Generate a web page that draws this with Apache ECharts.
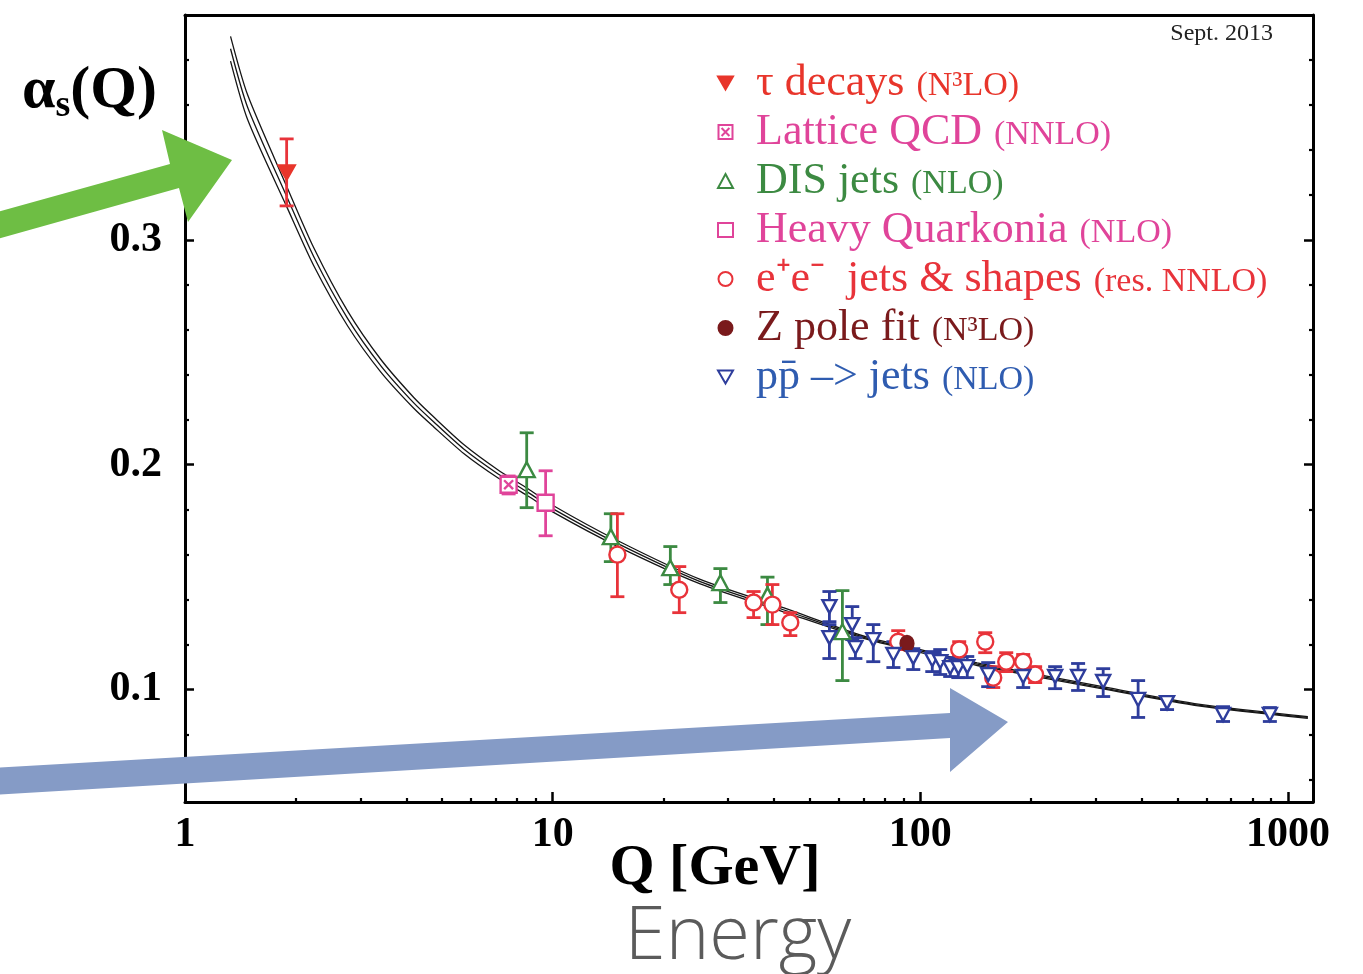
<!DOCTYPE html>
<html>
<head>
<meta charset="utf-8">
<title>alpha_s(Q)</title>
<script src="https://cdn.jsdelivr.net/npm/echarts@6/dist/echarts.min.js"></script>
<style>
  html, body { margin: 0; padding: 0; background: #fff; }
  #chart { width: 1363px; height: 974px; }
</style>
</head>
<body>
<div id="chart"></div>
<script>
// running coupling band
const curveQ   = [1.33, 1.48, 1.9, 2.24, 2.77, 3.41, 4.19, 4.75, 5.73, 7.09, 8.55, 10, 15, 25.2, 42.4, 71.8, 108.5, 142.8, 308, 577, 1133];
const curveMid = [0.385, 0.359, 0.3185, 0.2925, 0.265, 0.244, 0.2275, 0.219, 0.207, 0.196, 0.1878, 0.1805, 0.165, 0.148, 0.1355, 0.1228, 0.1158, 0.1113, 0.101, 0.093, 0.0876];
const curveUp  = [0.3905, 0.3645, 0.323, 0.2965, 0.2683, 0.2468, 0.2299, 0.2212, 0.209, 0.1978, 0.1894, 0.182, 0.1663, 0.149, 0.1364, 0.1233, 0.1164, 0.1119, 0.1015, 0.0934, 0.088];
const curveLow = [0.3795, 0.3535, 0.314, 0.2885, 0.2617, 0.2412, 0.2251, 0.2168, 0.205, 0.1942, 0.1862, 0.179, 0.1637, 0.147, 0.1346, 0.1223, 0.1152, 0.1107, 0.1005, 0.0926, 0.0872];

// tau decays
const tauQ = [1.89];
const tauAlpha = [0.330];
const tauLow = [0.3151];
const tauHigh = [0.3449];

// lattice QCD
const latQ = [7.59];
const latAlpha = [0.1911];
const latLow = [0.187];
const latHigh = [0.195];

// DIS jets
const disQ = [8.5, 14.4, 20.9, 28.6, 38.4, 61.4];
const disAlpha = [0.1978, 0.168, 0.1542, 0.1476, 0.142, 0.1258];
const disLow = [0.1809, 0.1569, 0.1467, 0.1387, 0.1289, 0.104];
const disHigh = [0.2142, 0.1782, 0.1636, 0.1538, 0.150, 0.144];

// heavy quarkonia
const hqQ = [9.57];
const hqAlpha = [0.1831];
const hqLow = [0.1684];
const hqHigh = [0.1973];

// e+e- jets & shapes
const eeQ = [15.0, 22.1, 35.2, 39.6, 44.3, 87.1, 127.6, 150.2, 157.9, 171.3, 190.5, 205.3];
const eeAlpha = [0.160, 0.1444, 0.1387, 0.1378, 0.1298, 0.1213, 0.1178, 0.1213, 0.1053, 0.1124, 0.1124, 0.1067];
const eeLow = [0.1413, 0.1342, 0.132, 0.1289, 0.124, 0.1178, 0.1147, 0.1164, 0.1009, 0.108, 0.1084, 0.1031];
const eeHigh = [0.1782, 0.1547, 0.1436, 0.1467, 0.1342, 0.1262, 0.1213, 0.1253, 0.1102, 0.1164, 0.1156, 0.1102];

// Z pole fit
const zQ = [92];
const zAlpha = [0.1205];

// pp(bar) -> jets
const ppQ = [56.6, 56.6, 65.3, 66.6, 74.5, 84.5, 95.7, 107.8, 113.3, 120.6, 126.9, 134.2, 153, 190.5, 232.7, 268.7, 314.4, 391.3, 469, 666, 893];
const ppAlpha = [0.1369, 0.1231, 0.1289, 0.1187, 0.1222, 0.1156, 0.1142, 0.1133, 0.1124, 0.1098, 0.1098, 0.1102, 0.1067, 0.1058, 0.1058, 0.1058, 0.1036, 0.0956, 0.0942, 0.0889, 0.0889];
const ppLow = [0.1302, 0.1138, 0.1222, 0.1138, 0.1124, 0.1098, 0.1089, 0.108, 0.1067, 0.1058, 0.1053, 0.1053, 0.1013, 0.1009, 0.1004, 0.0996, 0.0969, 0.0876, 0.0911, 0.0858, 0.0858];
const ppHigh = [0.1436, 0.1289, 0.1369, 0.1231, 0.1289, 0.1213, 0.1182, 0.1169, 0.1178, 0.1142, 0.1133, 0.1147, 0.112, 0.1111, 0.1102, 0.1116, 0.1093, 0.104, 0.0969, 0.0924, 0.092];

// axis ticks
const xMajor = [1, 10, 100, 1000];
const xMinor = [2, 3, 4, 5, 6, 7, 8, 9, 20, 30, 40, 50, 60, 70, 80, 90, 200, 300, 400, 500, 600, 700, 800, 900];
const yMajor = [0.1, 0.2, 0.3];
const yMinor = [0.06, 0.08, 0.12, 0.14, 0.16, 0.18, 0.22, 0.24, 0.26, 0.28, 0.32, 0.34, 0.36, 0.38];

const RED = '#e8333a';
const PINK = '#e0449a';
const GREEN = '#3c8a42';
const BLUE = '#2e3d9c';
const ZRED = '#7a1a1c';
const SERIF = '"Liberation Serif", "Times New Roman", serif';

const DOWN_TRI = 'path://M0,0L12,0L6,10.4Z';
const BOX_X = 'path://M0,0L10,0L10,10L0,10Z M2.2,2.2L7.8,7.8 M7.8,2.2L2.2,7.8';

const pts = (q, a) => q.map((v, i) => [v, a[i]]);
const bars = (q, lo, hi) => q.map((v, i) => [v, lo[i], hi[i]]);

function errorBar(color) {
  return function (params, api) {
    const x = api.value(0);
    const lo = api.coord([x, api.value(1)]);
    const hi = api.coord([x, api.value(2)]);
    const w = 7;
    const style = { stroke: color, lineWidth: 2.8 };
    return {
      type: 'group',
      children: [
        { type: 'line', shape: { x1: hi[0], y1: hi[1], x2: lo[0], y2: lo[1] }, style },
        { type: 'line', shape: { x1: hi[0] - w, y1: hi[1], x2: hi[0] + w, y2: hi[1] }, style },
        { type: 'line', shape: { x1: lo[0] - w, y1: lo[1], x2: lo[0] + w, y2: lo[1] }, style }
      ]
    };
  };
}

function errSeries(name, data, color) {
  return {
    name: name, type: 'custom', data: data, renderItem: errorBar(color),
    encode: { x: 0, y: [1, 2] }, z: 3, silent: true
  };
}

function markSeries(name, data, symbol, size, fill, stroke) {
  return {
    name: name, type: 'scatter', data: data, symbol: symbol, symbolSize: size,
    itemStyle: { color: fill, borderColor: stroke, borderWidth: 2.4, opacity: 1 },
    z: 4, silent: true
  };
}

function bandLine(data) {
  return {
    type: 'line', data: data, showSymbol: false, smooth: 0.25,
    lineStyle: { color: '#161616', width: 1.3 }, z: 2, silent: true
  };
}

const names = {
  tau: 'τ decays',
  lat: 'Lattice QCD',
  dis: 'DIS jets',
  hq: 'Heavy Quarkonia',
  ee: 'e⁺e⁻  jets & shapes',
  z: 'Z pole fit',
  pp: 'pp̄ –> jets'
};
const orders = {
  'τ decays': '(N³LO)',
  'Lattice QCD': '(NNLO)',
  'DIS jets': '(NLO)',
  'Heavy Quarkonia': '(NLO)',
  'e⁺e⁻  jets & shapes': '(res. NNLO)',
  'Z pole fit': '(N³LO)',
  'pp̄ –> jets': '(NLO)'
};
const legendColors = ['#e8352b', PINK, GREEN, PINK, RED, ZRED, '#2f5cb0'];

const baseX = { type: 'log', logBase: 10, min: 1, max: 1170, splitLine: { show: false } };
const baseY = { type: 'value', min: 0.05, max: 0.4, splitLine: { show: false } };
const axisBlack = { lineStyle: { color: '#000', width: 3 } };

const chart = echarts.init(document.getElementById('chart'));
chart.setOption({
  animation: false,
  backgroundColor: '#fff',
  grid: { left: 185, right: 50, top: 15, bottom: 172 },
  xAxis: [
    Object.assign({}, baseX, {
      position: 'bottom',
      axisLine: axisBlack,
      axisTick: { inside: true, length: 10, customValues: xMajor, lineStyle: { color: '#000', width: 2.5 } },
      axisLabel: {
        customValues: xMajor, margin: 12, color: '#000',
        fontFamily: SERIF, fontWeight: 'bold', fontSize: 42,
        formatter: v => String(Math.round(v))
      },
      name: 'Q [GeV]', nameLocation: 'middle', nameGap: 38, nameMoveOverlap: false,
      nameTextStyle: { fontFamily: SERIF, fontWeight: 'bold', fontSize: 58, color: '#000', padding: [0, 68, 0, 0] }
    }),
    Object.assign({}, baseX, {
      position: 'bottom',
      axisLine: { show: false },
      axisTick: { inside: true, length: 4, customValues: xMinor, lineStyle: { color: '#000', width: 2.2 } },
      axisLabel: { show: false }
    }),
    Object.assign({}, baseX, {
      position: 'top',
      axisLine: axisBlack,
      axisTick: { show: false },
      axisLabel: { show: false }
    })
  ],
  yAxis: [
    Object.assign({}, baseY, {
      position: 'left',
      axisLine: axisBlack,
      axisTick: { inside: true, length: 9, customValues: yMajor, lineStyle: { color: '#000', width: 2.5 } },
      axisLabel: {
        customValues: yMajor, margin: 23, color: '#000',
        fontFamily: SERIF, fontWeight: 'bold', fontSize: 42,
        formatter: v => v.toFixed(1)
      }
    }),
    Object.assign({}, baseY, {
      position: 'left',
      axisLine: { show: false },
      axisTick: { inside: true, length: 4, customValues: yMinor, lineStyle: { color: '#000', width: 2.2 } },
      axisLabel: { show: false }
    }),
    Object.assign({}, baseY, {
      position: 'right',
      axisLine: axisBlack,
      axisTick: { inside: true, length: 9, customValues: yMajor, lineStyle: { color: '#000', width: 2.5 } },
      axisLabel: { show: false }
    }),
    Object.assign({}, baseY, {
      position: 'right',
      axisLine: { show: false },
      axisTick: { inside: true, length: 4, customValues: yMinor, lineStyle: { color: '#000', width: 2.2 } },
      axisLabel: { show: false }
    })
  ],
  legend: {
    orient: 'vertical', left: 712, top: 56,
    itemWidth: 15, itemHeight: 14, itemGap: 5,
    selectedMode: false,
    data: Object.values(names).map((n, i) => ({ name: n, textStyle: { color: legendColors[i] } })),
    formatter: n => '{a|' + n + '}{b|' + orders[n] + '}',
    textStyle: {
      fontFamily: SERIF,
      rich: {
        a: { fontFamily: SERIF, fontSize: 44, lineHeight: 44, padding: [0, 0, 0, 18] },
        b: { fontFamily: SERIF, fontSize: 34, lineHeight: 37, padding: [7, 0, 0, 12] }
      }
    }
  },
  series: [
    bandLine(pts(curveQ, curveUp)),
    bandLine(pts(curveQ, curveMid)),
    bandLine(pts(curveQ, curveLow)),
    errSeries('tau-err', bars(tauQ, tauLow, tauHigh), RED),
    errSeries('lat-err', bars(latQ, latLow, latHigh), PINK),
    errSeries('dis-err', bars(disQ, disLow, disHigh), GREEN),
    errSeries('hq-err', bars(hqQ, hqLow, hqHigh), PINK),
    errSeries('ee-err', bars(eeQ, eeLow, eeHigh), RED),
    errSeries('pp-err', bars(ppQ, ppLow, ppHigh), BLUE),
    markSeries(names.tau, pts(tauQ, tauAlpha), DOWN_TRI, [16, 14], '#e8352b', '#e8352b'),
    markSeries(names.lat, pts(latQ, latAlpha), BOX_X, 16, '#fff', PINK),
    markSeries(names.dis, pts(disQ, disAlpha), 'triangle', [16, 15], '#fff', GREEN),
    markSeries(names.hq, pts(hqQ, hqAlpha), 'rect', 16, '#fff', PINK),
    markSeries(names.ee, pts(eeQ, eeAlpha), 'circle', 16, '#fff', RED),
    markSeries(names.z, pts(zQ, zAlpha), 'circle', [13, 15], ZRED, ZRED),
    markSeries(names.pp, pts(ppQ, ppAlpha), DOWN_TRI, [14, 13], '#fff', BLUE)
  ],
  graphic: [
    {
      type: 'text', left: 22, top: 57, z: 10,
      style: {
        text: '{a|α}{s|s}{a|(Q)}', fill: '#000',
        rich: {
          a: { fontFamily: SERIF, fontWeight: 'bold', fontSize: 60, lineHeight: 62 },
          s: { fontFamily: SERIF, fontWeight: 'bold', fontSize: 38, lineHeight: 38, padding: [30, 0, 0, 0] }
        }
      }
    },
    {
      type: 'text', right: 90, top: 22, z: 10,
      style: { text: 'Sept. 2013', fill: '#222', fontFamily: SERIF, fontSize: 24 }
    },
    {
      type: 'text', x: 738, y: 938, z: 10,
      style: {
        text: 'Energy', fill: '#5b5b5b', fontFamily: '"Open Sans", Lato, sans-serif',
        fontWeight: 300, fontSize: 74, align: 'center', verticalAlign: 'middle'
      }
    },
    {
      // green annotation arrow
      type: 'polygon', z: 20, silent: true,
      shape: { points: [[-10, 214], [170, 164], [162, 130], [232, 160], [188, 222], [179, 188], [-10, 241]] },
      style: { fill: '#6ebe44' }
    },
    {
      // blue annotation arrow
      type: 'polygon', z: 20, silent: true,
      shape: { points: [[-10, 768], [950, 713], [950, 688], [1008, 722], [950, 772], [950, 738], [-10, 795]] },
      style: { fill: '#859bc6' }
    }
  ]
});
</script>
</body>
</html>
